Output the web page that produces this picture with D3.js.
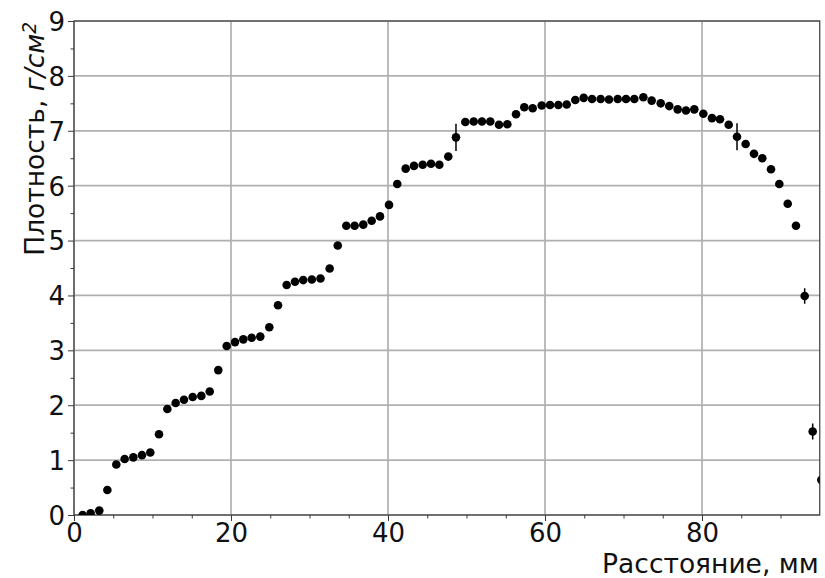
<!DOCTYPE html>
<html>
<head>
<meta charset="utf-8">
<script src="https://cdn.jsdelivr.net/npm/d3@7"></script>
<style>
  html, body { margin: 0; padding: 0; background: #fff; }
  svg { display: block; font-family: "DejaVu Sans", sans-serif; }
</style>
</head>
<body>
<svg id="chart" width="825" height="578"></svg>
<script>
// Distance along the sample, mm
const distance = [
  1.1, 2.12, 3.22, 4.25, 5.39, 6.45, 7.56, 8.66, 9.72, 10.83,
  11.89, 12.95, 14.01, 15.12, 16.22, 17.29, 18.38, 19.45, 20.51, 21.57,
  22.63, 23.73, 24.88, 25.99, 27.09, 28.15, 29.2, 30.3, 31.4, 32.57,
  33.6, 34.69, 35.75, 36.85, 37.92, 38.98, 40.13, 41.18, 42.25, 43.31,
  44.42, 45.48, 46.54, 47.68, 48.66, 49.85, 50.92, 51.97, 53.03, 54.14,
  55.2, 56.31, 57.36, 58.43, 59.58, 60.64, 61.7, 62.76, 63.86, 64.93,
  65.99, 67.09, 68.15, 69.26, 70.32, 71.38, 72.53, 73.59, 74.74, 75.83,
  76.9, 77.96, 79.02, 80.17, 81.27, 82.29, 83.4, 84.46, 85.56, 86.62,
  87.68, 88.79, 89.85, 90.92, 91.97, 93.08, 94.1, 95.2
];
// Areal density, g/cm^2
const density = [
  0.0, 0.03, 0.08, 0.455, 0.92, 1.02, 1.05, 1.09, 1.14, 1.47,
  1.93, 2.04, 2.10, 2.15, 2.17, 2.25, 2.64, 3.08, 3.15, 3.20,
  3.23, 3.25, 3.42, 3.82, 4.19, 4.25, 4.28, 4.29, 4.31, 4.49,
  4.91, 5.27, 5.27, 5.29, 5.36, 5.44, 5.65, 6.03, 6.31, 6.36,
  6.38, 6.40, 6.38, 6.53, 6.88, 7.16, 7.17, 7.17, 7.17, 7.11,
  7.12, 7.30, 7.43, 7.41, 7.46, 7.47, 7.47, 7.48, 7.56, 7.60,
  7.58, 7.58, 7.57, 7.58, 7.58, 7.58, 7.61, 7.55, 7.50, 7.45,
  7.39, 7.37, 7.39, 7.31, 7.23, 7.21, 7.11, 6.89, 6.76, 6.58,
  6.50, 6.30, 6.03, 5.67, 5.27, 3.99, 1.52, 0.64
];
// Measurement uncertainty, g/cm^2
const densityErr = [
  0.02, 0.02, 0.02, 0.03, 0.03, 0.03, 0.03, 0.03, 0.03, 0.03,
  0.03, 0.03, 0.03, 0.03, 0.03, 0.03, 0.03, 0.03, 0.03, 0.03,
  0.03, 0.03, 0.03, 0.03, 0.03, 0.03, 0.03, 0.03, 0.03, 0.03,
  0.03, 0.03, 0.03, 0.03, 0.03, 0.03, 0.03, 0.03, 0.03, 0.03,
  0.03, 0.03, 0.03, 0.03, 0.25, 0.03, 0.03, 0.03, 0.03, 0.03,
  0.03, 0.03, 0.03, 0.03, 0.03, 0.03, 0.03, 0.03, 0.03, 0.03,
  0.03, 0.03, 0.03, 0.03, 0.03, 0.03, 0.03, 0.03, 0.03, 0.03,
  0.03, 0.03, 0.03, 0.03, 0.03, 0.03, 0.03, 0.245, 0.03, 0.03,
  0.03, 0.03, 0.03, 0.03, 0.04, 0.14, 0.145, 0.1
];
const xTicks = [0, 20, 40, 60, 80];
const xMinorTicks = [5, 10, 15, 25, 30, 35, 45, 50, 55, 65, 70, 75, 85, 90];
const yTicks = [0, 1, 2, 3, 4, 5, 6, 7, 8, 9];
const yMinorTicks = [0.5, 1.5, 2.5, 3.5, 4.5, 5.5, 6.5, 7.5, 8.5];

const points = distance.map((d, i) => ({ x: d, y: density[i], e: densityErr[i] }));

const margin = { left: 74, right: 5.25, top: 21, bottom: 63 };
const W = 825, H = 578;
const svg = d3.select("#chart");

const x = d3.scaleLinear().domain([0, 95]).range([margin.left, W - margin.right]);
const y = d3.scaleLinear().domain([0, 9]).range([H - margin.bottom, margin.top]);

const gridColor = "#b0b0b0";
const axisColor = "#3a3a3a";
const tickFont = 26;
const labelFont = 26.5;

svg.append("defs").append("clipPath").attr("id", "plot-clip")
  .append("rect")
  .attr("x", x(0)).attr("y", y(9))
  .attr("width", x(95) - x(0)).attr("height", y(0) - y(9));

// Grid lines at major ticks
const grid = svg.append("g");
grid.selectAll("line.gx").data(xTicks).join("line")
  .attr("x1", d => x(d)).attr("x2", d => x(d))
  .attr("y1", y(0)).attr("y2", y(9))
  .attr("stroke", gridColor).attr("stroke-width", 1.7);
grid.selectAll("line.gy").data(yTicks).join("line")
  .attr("x1", x(0)).attr("x2", x(95))
  .attr("y1", d => y(d)).attr("y2", d => y(d))
  .attr("stroke", gridColor).attr("stroke-width", 1.7);

// Axes with major and minor ticks
function styleAxis(g) {
  g.select(".domain").remove();
  g.selectAll("line").attr("stroke", axisColor).attr("stroke-width", 1);
  g.selectAll("text")
    .attr("fill", "#111")
    .style("font-family", "'DejaVu Sans', sans-serif")
    .style("font-size", tickFont + "px");
}

const xAxis = svg.append("g").attr("transform", `translate(0,${y(0)})`)
  .call(d3.axisBottom(x).tickValues(xTicks).tickFormat(d3.format("d")).tickSize(6).tickPadding(3));
styleAxis(xAxis);
const xMinor = svg.append("g").attr("transform", `translate(0,${y(0)})`)
  .call(d3.axisBottom(x).tickValues(xMinorTicks).tickFormat("").tickSize(3.5));
styleAxis(xMinor);

const yAxis = svg.append("g").attr("transform", `translate(${x(0)},0)`)
  .call(d3.axisLeft(y).tickValues(yTicks).tickFormat(d3.format("d")).tickSize(6).tickPadding(3));
styleAxis(yAxis);
yAxis.selectAll("text").attr("dy", "0.36em");
const yMinor = svg.append("g").attr("transform", `translate(${x(0)},0)`)
  .call(d3.axisLeft(y).tickValues(yMinorTicks).tickFormat("").tickSize(3.5));
styleAxis(yMinor);

// Frame
svg.append("rect")
  .attr("x", x(0)).attr("y", y(9))
  .attr("width", x(95) - x(0)).attr("height", y(0) - y(9))
  .attr("fill", "none").attr("stroke", axisColor).attr("stroke-width", 1.2);

// Data: error bars and markers
const data = svg.append("g").attr("clip-path", "url(#plot-clip)");
data.selectAll("line.err").data(points).join("line")
  .attr("class", "err")
  .attr("x1", d => x(d.x)).attr("x2", d => x(d.x))
  .attr("y1", d => y(d.y - d.e)).attr("y2", d => y(d.y + d.e))
  .attr("stroke", "#000").attr("stroke-width", 1.5);
data.selectAll("circle").data(points).join("circle")
  .attr("cx", d => x(d.x)).attr("cy", d => y(d.y))
  .attr("r", 4.3).attr("fill", "#000");

// Axis titles
svg.append("text")
  .attr("x", x(95) - 1).attr("y", 573)
  .attr("text-anchor", "end")
  .attr("fill", "#111")
  .style("font-size", labelFont + "px")
  .text("Расстояние, мм");

const yl = svg.append("text")
  .attr("transform", `translate(44,${y(9) + 1}) rotate(-90)`)
  .attr("text-anchor", "end")
  .attr("fill", "#111")
  .style("font-size", labelFont + "px");
yl.append("tspan").text("Плотность, ");
yl.append("tspan").attr("font-style", "italic").text("г/см");
yl.append("tspan").attr("font-style", "italic").attr("dy", "-0.45em").style("font-size", (labelFont * 0.7) + "px").text("2");
</script>
</body>
</html>
